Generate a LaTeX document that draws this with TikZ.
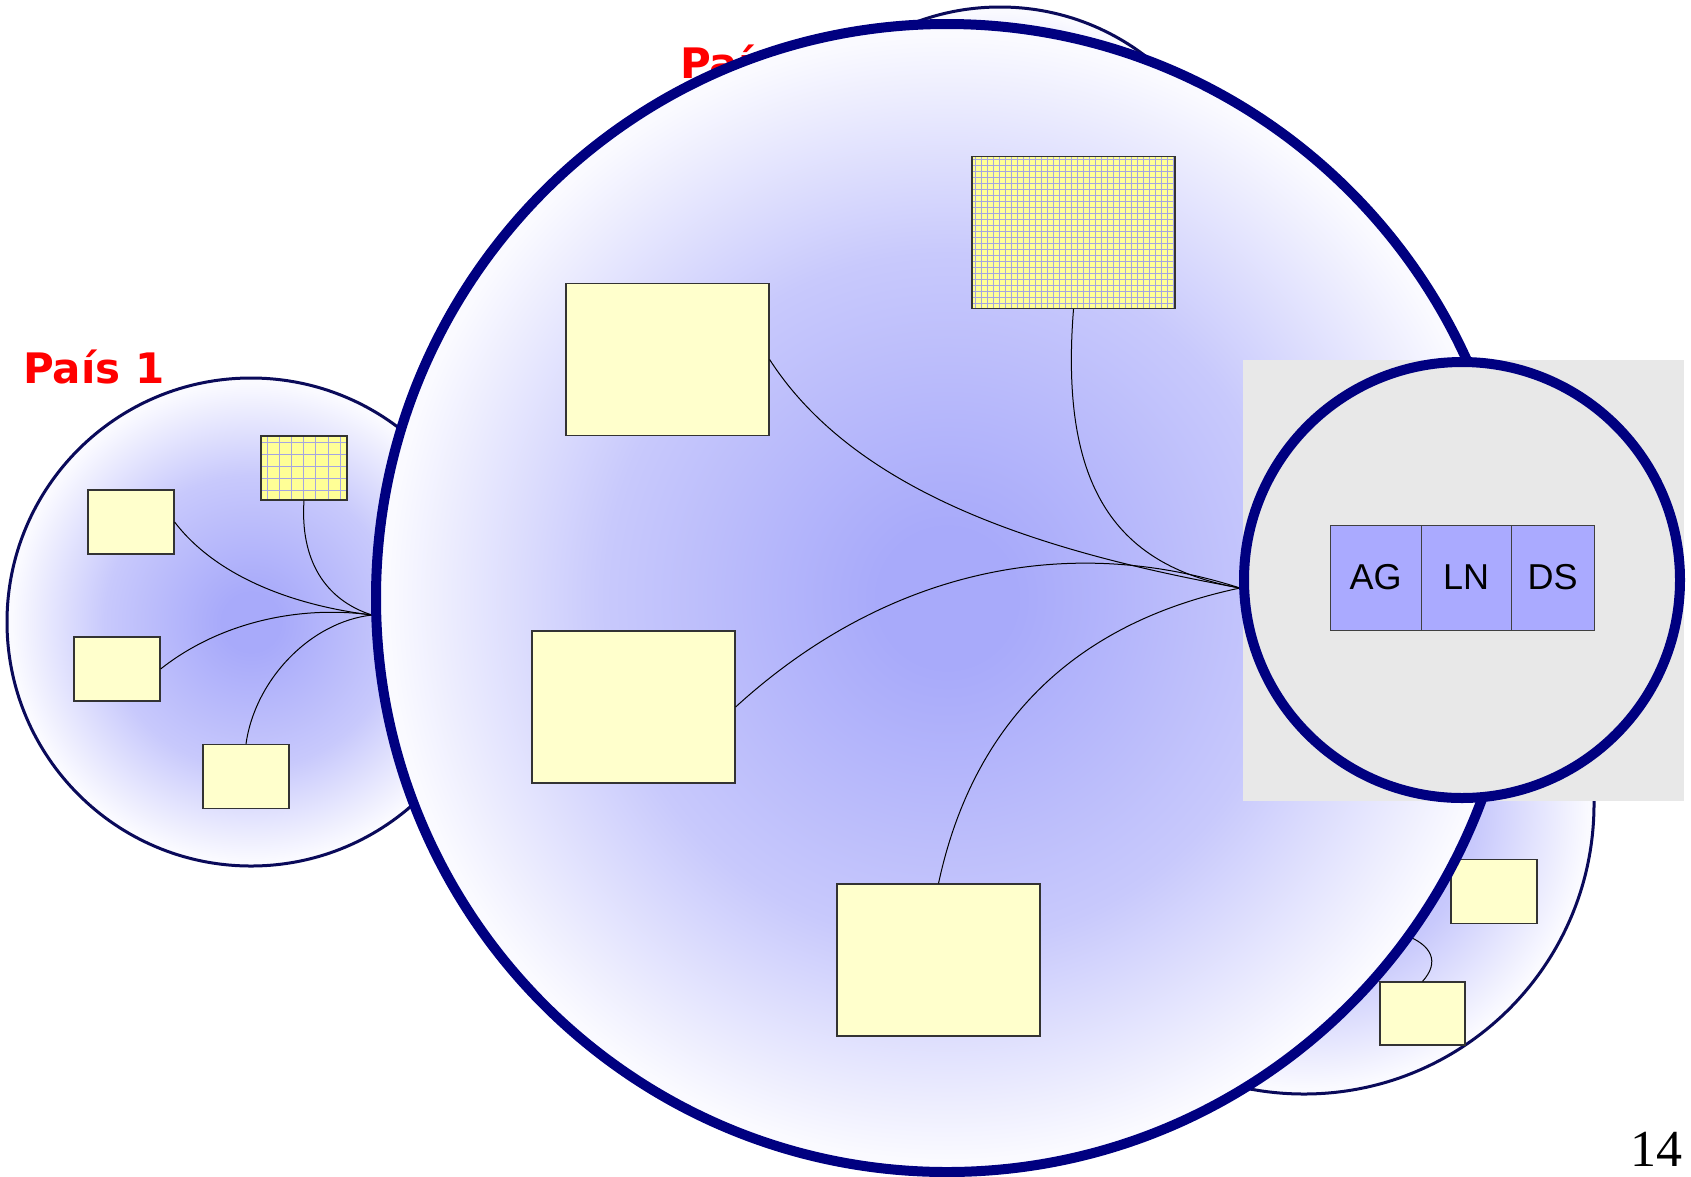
\documentclass[tikz,border=0pt]{standalone}
\usepackage{fontspec}
\setmainfont{Liberation Serif}
\newfontfamily\lblfont{DejaVu Sans}
\newfontfamily\arialfont{Liberation Sans}
\definecolor{navy}{RGB}{0,0,128}
\definecolor{thinnavy}{RGB}{10,10,90}
\definecolor{boxyellow}{RGB}{255,255,204}
\definecolor{gridyellow}{RGB}{255,255,150}
\definecolor{gridlinec}{RGB}{165,165,225}
\definecolor{cellblue}{RGB}{170,170,255}
\definecolor{panelgrey}{RGB}{232,232,232}
\definecolor{shadein}{RGB}{168,170,250}
\definecolor{shademid}{RGB}{200,201,252}
\definecolor{shadeout}{RGB}{250,250,255}
\definecolor{labelred}{RGB}{255,0,0}
\pgfdeclareradialshading{countryshade}{\pgfpoint{0bp}{0bp}}{color(0bp)=(shadein); color(3bp)=(shadein); color(15bp)=(shademid); color(24.5bp)=(shadeout); color(50bp)=(shadeout)}
\tikzset{
  country/.style={shade, shading=countryshade, draw=thinnavy, line width=3pt},
  bigcountry/.style={shade, shading=countryshade, draw=navy, line width=10pt},
  ybox/.style={draw=black!80, line width=1.2pt, fill=boxyellow, inner sep=0pt},
  sbox/.style={ybox, minimum width=86pt, minimum height=64pt},
  lbox/.style={ybox, minimum width=203pt, minimum height=152pt},
  gridbox/.style={fill=gridyellow, path picture={
      \foreach \k in {1,...,40}{
        \draw[gridlinec, line width=0.9pt] ([xshift={(\k*#1-#1/2)*1pt}]path picture bounding box.north west) -- ([xshift={(\k*#1-#1/2)*1pt}]path picture bounding box.south west);
        \draw[gridlinec, line width=0.9pt] ([yshift={-(\k*#1-#1/2)*1pt}]path picture bounding box.north west) -- ([yshift={-(\k*#1-#1/2)*1pt}]path picture bounding box.north east);
      }}},
  link/.style={draw=black, line width=1pt},
  paislabel/.style={text=labelred, font=\lblfont\bfseries\fontsize{42}{48}\selectfont, inner sep=0pt, anchor=base west},
  cell/.style={draw=black!75, line width=1pt, fill=cellblue, inner sep=0pt, minimum height=105pt, font=\arialfont\fontsize{36}{40}\selectfont},
}
\begin{document}
\begin{tikzpicture}[x=1pt,y=-1pt]
\useasboundingbox (0,0) rectangle (1691,1176);
\clip (0,0) rectangle (1691,1176);
\fill[white] (0,0) rectangle (1691,1176);

% ---- Pais 1 (left)
\path[country] (251,622) circle [radius=244pt];
\node[sbox] (lc1) at (131,522) {};
\node[sbox, gridbox=12.2] (lcg) at (304,468) {};
\node[sbox] (lc2) at (117,669) {};
\node[sbox] (lc3) at (246,776.5) {};
\coordinate (lp) at (372,615);
\draw[link] (lc1.east) .. controls (215,575) and (290,605) .. (lp);
\draw[link] (lcg.south) .. controls (300,560) and (325,600) .. (lp);
\draw[link] (lc2.east) .. controls (220,622) and (300,605) .. (lp);
\draw[link] (lc3.north) .. controls (255,680) and (310,622) .. (lp);
\node[paislabel] (p1) at (23,383) {País 1};

% ---- bottom-right country
\path[country] (1304,804) circle [radius=290pt];
\node[sbox] (rc1) at (1494,891.5) {};
\node[sbox, minimum width=85pt, minimum height=63pt] (rc2) at (1422.5,1013.5) {};
\coordinate (rq) at (1405,935);
\draw[link] (rc2.north) .. controls (1440,962) and (1432,945) .. (rq);

% ---- Pais 2 (behind)
\path[country] (1000,247) circle [radius=240pt];
\node[paislabel] (p2) at (680,78) {País 2};

% ---- enlarged country
\path[bigcountry] (947,598) ellipse [x radius=571pt, y radius=574pt];
\node[lbox] (bc1) at (667.5,359.5) {};
\node[lbox] (bc2) at (633.5,707) {};
\node[lbox] (bc3) at (938.5,960) {};
\node[lbox, gridbox=6] (bcg) at (1073.5,232.5) {};
\coordinate (bp) at (1240,588);
\draw[link] (bc1.east) .. controls (860,500) and (1060,555) .. (bp);
\draw[link] (bcg.south) .. controls (1060,480) and (1110,565) .. (bp);
\draw[link] (bc2.east) .. controls (880,575) and (1060,530) .. (bp);
\draw[link] (bc3.north) .. controls (965,760) and (1040,630) .. (bp);

% ---- detail panel
\fill[panelgrey] (1243,360) rectangle (1684,801);
\draw[navy, line width=10pt, fill=panelgrey] (1462,580) circle [radius=218pt];
\node[cell, minimum width=91pt] (ag) at (1375.5,577.5) {AG};
\node[cell, minimum width=90pt] (ln) at (1466,577.5) {LN};
\node[cell, minimum width=83pt] (ds) at (1552.5,577.5) {DS};

% ---- page number
\node[anchor=base east, inner sep=0pt, font=\fontsize{52}{54}\selectfont] (pg) at (1683,1166) {14};
\end{tikzpicture}
\end{document}
